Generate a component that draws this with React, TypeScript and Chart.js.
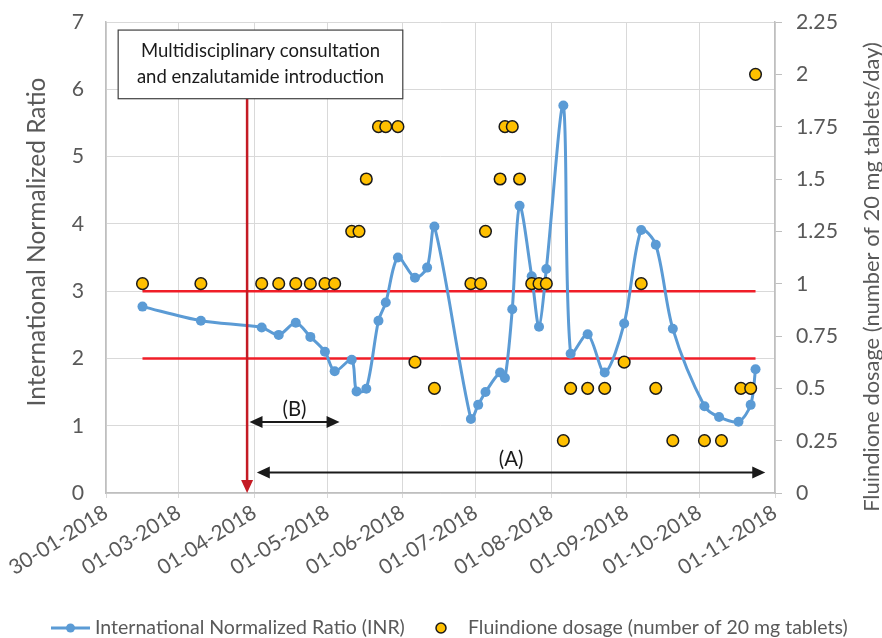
import { useEffect, useRef } from 'react';
import { Chart, registerables } from 'chart.js';

Chart.register(...registerables);

// ---------- DATA ----------
const START_DATE = '2018-01-30';
const END_DATE = '2018-11-01';

const xTickDates = ['2018-01-30', '2018-03-01', '2018-04-01', '2018-05-01', '2018-06-01', '2018-07-01', '2018-08-01', '2018-09-01', '2018-10-01', '2018-11-01'];
const xTickLabels = ['30-01-2018', '01-03-2018', '01-04-2018', '01-05-2018', '01-06-2018', '01-07-2018', '01-08-2018', '01-09-2018', '01-10-2018', '01-11-2018'];

const inrDates = [
  '2018-02-14', '2018-03-10', '2018-04-04', '2018-04-11', '2018-04-18', '2018-04-24', '2018-04-30', '2018-05-04',
  '2018-05-11', '2018-05-13', '2018-05-17', '2018-05-22', '2018-05-25', '2018-05-30', '2018-06-06', '2018-06-11',
  '2018-06-14', '2018-06-29', '2018-07-02', '2018-07-05', '2018-07-11', '2018-07-13', '2018-07-16', '2018-07-19',
  '2018-07-24', '2018-07-27', '2018-07-30', '2018-08-06', '2018-08-09', '2018-08-16', '2018-08-23', '2018-08-31',
  '2018-09-07', '2018-09-13', '2018-09-20', '2018-10-03', '2018-10-09', '2018-10-17', '2018-10-22', '2018-10-24',
];
const inrValues = [
  2.77, 2.56, 2.46, 2.35, 2.53, 2.32, 2.10, 1.81,
  1.98, 1.51, 1.55, 2.56, 2.83, 3.50, 3.20, 3.35,
  3.96, 1.10, 1.31, 1.50, 1.79, 1.71, 2.73, 4.27,
  3.22, 2.47, 3.33, 5.76, 2.07, 2.36, 1.79, 2.52,
  3.91, 3.69, 2.44, 1.29, 1.13, 1.06, 1.31, 1.84,
];

const doseDates = [
  '2018-02-14', '2018-03-10', '2018-04-04', '2018-04-11', '2018-04-18', '2018-04-24', '2018-04-30', '2018-05-04',
  '2018-05-11', '2018-05-14', '2018-05-17', '2018-05-22', '2018-05-25', '2018-05-30', '2018-06-06', '2018-06-14',
  '2018-06-29', '2018-07-03', '2018-07-05', '2018-07-11', '2018-07-13', '2018-07-16', '2018-07-19', '2018-07-24',
  '2018-07-27', '2018-07-30', '2018-08-06', '2018-08-09', '2018-08-16', '2018-08-23', '2018-08-31', '2018-09-07',
  '2018-09-13', '2018-09-20', '2018-10-03', '2018-10-10', '2018-10-18', '2018-10-22', '2018-10-24',
];
const doseValues = [
  1, 1, 1, 1, 1, 1, 1, 1,
  1.25, 1.25, 1.5, 1.75, 1.75, 1.75, 0.625, 0.5,
  1, 1, 1.25, 1.5, 1.75, 1.75, 1.5, 1,
  1, 1, 0.25, 0.5, 0.5, 0.5, 0.625, 1,
  0.5, 0.25, 0.25, 0.25, 0.5, 0.5, 2,
];

const targetRangeDates = ['2018-02-14', '2018-10-24'];
const targetRangeValues = [2, 3];

const eventDate = '2018-03-29';
const eventText = ['Multidisciplinary consultation', 'and enzalutamide introduction'];
const periodBDates = ['2018-03-30', '2018-05-06'];
const periodADates = ['2018-04-02', '2018-10-28'];

const inrLabel = 'International Normalized Ratio (INR)';
const doseLabel = 'Fluindione dosage (number of 20 mg tablets)';
const leftTitle = 'International Normalized Ratio';
const rightTitle = 'Fluindione dosage (number of 20 mg tablets/day)';

// ---------- STYLE ----------
const FONT = 'Lato, "Open Sans", sans-serif';
const BLUE = '#5b9bd5';
const YELLOW = '#ffc000';
const GREY_TEXT = '#595959';
const GRID = '#d9d9d9';
const AXIS = '#bfbfbf';
const RED = '#f01e28';
const DARK_RED = '#c41a24';

const DAY = 86400000;
const dayOf = (s: string) => (Date.parse(s) - Date.parse(START_DATE)) / DAY;

function fitSize(text: string, target: number) {
  const ctx = document.createElement('canvas').getContext('2d')!;
  ctx.font = `100px ${FONT}`;
  return (100 * target) / ctx.measureText(text).width;
}

function arrowHead(ctx: CanvasRenderingContext2D, x: number, y: number, dx: number, dy: number, len: number, half: number) {
  const bx = x - dx * len;
  const by = y - dy * len;
  ctx.beginPath();
  ctx.moveTo(x, y);
  ctx.lineTo(bx - dy * half, by + dx * half);
  ctx.lineTo(bx + dy * half, by - dx * half);
  ctx.closePath();
  ctx.fill();
}

export default function App() {
  const ref = useRef<HTMLCanvasElement>(null);

  useEffect(() => {
    const canvas = ref.current!;
    const tickFont = fitSize('2.25', 42);
    const xFont = fitSize('30-01-2018', 112);
    const titleL = fitSize(leftTitle, 329);
    const titleR = fitSize(rightTitle, 470);
    const legF1 = fitSize(inrLabel, 310);
    const legF2 = fitSize(doseLabel, 380);
    const boxF = fitSize(eventText[0], 239);
    const abF = fitSize('(B)', 24);

    const overlay = {
      id: 'overlay',
      afterDatasetsDraw(chart: any) {
        const { ctx, scales } = chart;
        const x = scales.x;
        const y = scales.y;
        ctx.save();
        // vertical event line
        const ex = x.getPixelForValue(dayOf(eventDate));
        const boxTop = y.getPixelForValue(6.88);
        const boxBottom = y.getPixelForValue(5.86);
        const y0 = y.getPixelForValue(0);
        ctx.strokeStyle = DARK_RED;
        ctx.fillStyle = DARK_RED;
        ctx.lineWidth = 2.5;
        ctx.beginPath();
        ctx.moveTo(ex, boxBottom);
        ctx.lineTo(ex, y0 - 10);
        ctx.stroke();
        arrowHead(ctx, ex, y0, 0, 1, 13, 6);

        // annotation box
        const bx1 = x.getPixelForValue(dayOf('2018-02-04'));
        const bx2 = x.getPixelForValue(dayOf('2018-06-01'));
        ctx.fillStyle = '#ffffff';
        ctx.fillRect(bx1, boxTop, bx2 - bx1, boxBottom - boxTop);
        ctx.strokeStyle = '#404040';
        ctx.lineWidth = 1.2;
        ctx.strokeRect(bx1, boxTop, bx2 - bx1, boxBottom - boxTop);
        ctx.fillStyle = '#1a1a1a';
        ctx.font = `${boxF}px ${FONT}`;
        ctx.textAlign = 'center';
        ctx.textBaseline = 'middle';
        const cx = (bx1 + bx2) / 2;
        const h = boxBottom - boxTop;
        ctx.fillText(eventText[0], cx, boxTop + h * 0.3);
        ctx.fillText(eventText[1], cx, boxTop + h * 0.68);

        // period arrows
        const drawPeriod = (dates: string[], level: number, label: string) => {
          const a = x.getPixelForValue(dayOf(dates[0]));
          const b = x.getPixelForValue(dayOf(dates[1]));
          const py = y.getPixelForValue(level);
          ctx.strokeStyle = '#1a1a1a';
          ctx.fillStyle = '#1a1a1a';
          ctx.lineWidth = 2;
          ctx.beginPath();
          ctx.moveTo(a + 10, py);
          ctx.lineTo(b - 10, py);
          ctx.stroke();
          arrowHead(ctx, a, py, -1, 0, 13, 6);
          arrowHead(ctx, b, py, 1, 0, 13, 6);
          ctx.font = `${abF}px ${FONT}`;
          ctx.textAlign = 'center';
          ctx.textBaseline = 'middle';
          ctx.fillText(label, (a + b) / 2, py - 13);
        };
        drawPeriod(periodBDates, 1.055, '(B)');
        drawPeriod(periodADates, 0.306, '(A)');
        ctx.restore();
      },
      afterDraw(chart: any) {
        const { ctx } = chart;
        ctx.save();
        ctx.fillStyle = GREY_TEXT;
        ctx.textAlign = 'center';
        ctx.textBaseline = 'middle';
        // left title
        ctx.save();
        ctx.translate(37, 242);
        ctx.rotate(-Math.PI / 2);
        ctx.font = `${titleL}px ${FONT}`;
        ctx.fillText(leftTitle, 0, 0);
        ctx.restore();
        // right title
        ctx.save();
        ctx.translate(872, 277);
        ctx.rotate(-Math.PI / 2);
        ctx.font = `${titleR}px ${FONT}`;
        ctx.fillText(rightTitle, 0, 0);
        ctx.restore();

        // legend
        const ly = 628;
        ctx.strokeStyle = BLUE;
        ctx.lineWidth = 3;
        ctx.beginPath();
        ctx.moveTo(51, ly);
        ctx.lineTo(90, ly);
        ctx.stroke();
        ctx.fillStyle = BLUE;
        ctx.beginPath();
        ctx.arc(70.5, ly, 4.5, 0, Math.PI * 2);
        ctx.fill();
        ctx.fillStyle = GREY_TEXT;
        ctx.textAlign = 'left';
        ctx.font = `${legF1}px ${FONT}`;
        ctx.fillText(inrLabel, 95, ly);
        ctx.fillStyle = YELLOW;
        ctx.strokeStyle = '#1a1a1a';
        ctx.lineWidth = 1.5;
        ctx.beginPath();
        ctx.arc(441, ly, 5, 0, Math.PI * 2);
        ctx.fill();
        ctx.stroke();
        ctx.fillStyle = GREY_TEXT;
        ctx.font = `${legF2}px ${FONT}`;
        ctx.fillText(doseLabel, 468, ly);
        ctx.restore();
      },
    };

    const tickDays = xTickDates.map(dayOf);

    const chart = new Chart(canvas, {
      type: 'line',
      data: {
        datasets: [
          {
            label: inrLabel,
            data: inrDates.map((d, i) => ({ x: dayOf(d), y: inrValues[i] })),
            yAxisID: 'y',
            borderColor: BLUE,
            backgroundColor: BLUE,
            borderWidth: 3,
            pointRadius: 5,
            pointBorderWidth: 0,
            pointBackgroundColor: BLUE,
            tension: 0.3,
            order: 1,
          },
          {
            label: doseLabel,
            data: doseDates.map((d, i) => ({ x: dayOf(d), y: doseValues[i] })),
            yAxisID: 'y2',
            showLine: false,
            pointRadius: 5.8,
            pointBorderWidth: 1.5,
            pointBorderColor: '#1a1a1a',
            pointBackgroundColor: YELLOW,
            order: 0,
          },
          ...targetRangeValues.map((v) => ({
            label: 'target ' + v,
            data: targetRangeDates.map((d) => ({ x: dayOf(d), y: v })),
            yAxisID: 'y',
            borderColor: RED,
            borderWidth: 2.5,
            pointRadius: 0,
            order: 2,
          })),
        ],
      },
      options: {
        responsive: false,
        animation: false,
        events: [],
        layout: { padding: { top: 22, left: 0, right: 0, bottom: 0 } },
        plugins: { legend: { display: false }, tooltip: { enabled: false } },
        scales: {
          x: {
            type: 'linear',
            min: dayOf(START_DATE),
            max: dayOf(END_DATE),
            afterBuildTicks: (s: any) => {
              s.ticks = tickDays.map((v) => ({ value: v }));
            },
            afterFit: (s: any) => {
              s.height = 145;
            },
            ticks: {
              autoSkip: false,
              minRotation: 32,
              maxRotation: 32,
              padding: 2,
              color: GREY_TEXT,
              font: { family: FONT, size: xFont },
              callback: (_v: any, i: number) => xTickLabels[i],
            },
            grid: { color: GRID, lineWidth: 1, drawTicks: true, tickLength: 5 },
            border: { color: AXIS, width: 1.5 },
          },
          y: {
            position: 'left',
            min: 0,
            max: 7,
            afterFit: (s: any) => {
              s.width = 106;
              s.paddingTop = 0;
              s.paddingBottom = 0;
            },
            ticks: { stepSize: 1, padding: 22, color: GREY_TEXT, font: { family: FONT, size: tickFont } },
            grid: { color: GRID, lineWidth: 1, drawTicks: false },
            border: { color: AXIS, width: 1.5 },
          },
          y2: {
            position: 'right',
            min: 0,
            max: 2.25,
            afterFit: (s: any) => {
              s.width = 107;
              s.paddingTop = 0;
              s.paddingBottom = 0;
            },
            ticks: {
              stepSize: 0.25,
              padding: 14,
              color: GREY_TEXT,
              font: { family: FONT, size: tickFont },
              callback: (v: any) => String(v),
            },
            grid: { drawOnChartArea: false, drawTicks: true, tickLength: 7, color: AXIS },
            border: { color: AXIS, width: 1.5 },
          },
        },
      } as any,
      plugins: [overlay],
    });
    return () => chart.destroy();
  }, []);

  return (
    <div style={{ position: 'fixed', left: 0, top: 0, width: 882, height: 638, background: '#fff' }}>
      <canvas ref={ref} width={882} height={638} style={{ display: 'block' }} />
    </div>
  );
}
